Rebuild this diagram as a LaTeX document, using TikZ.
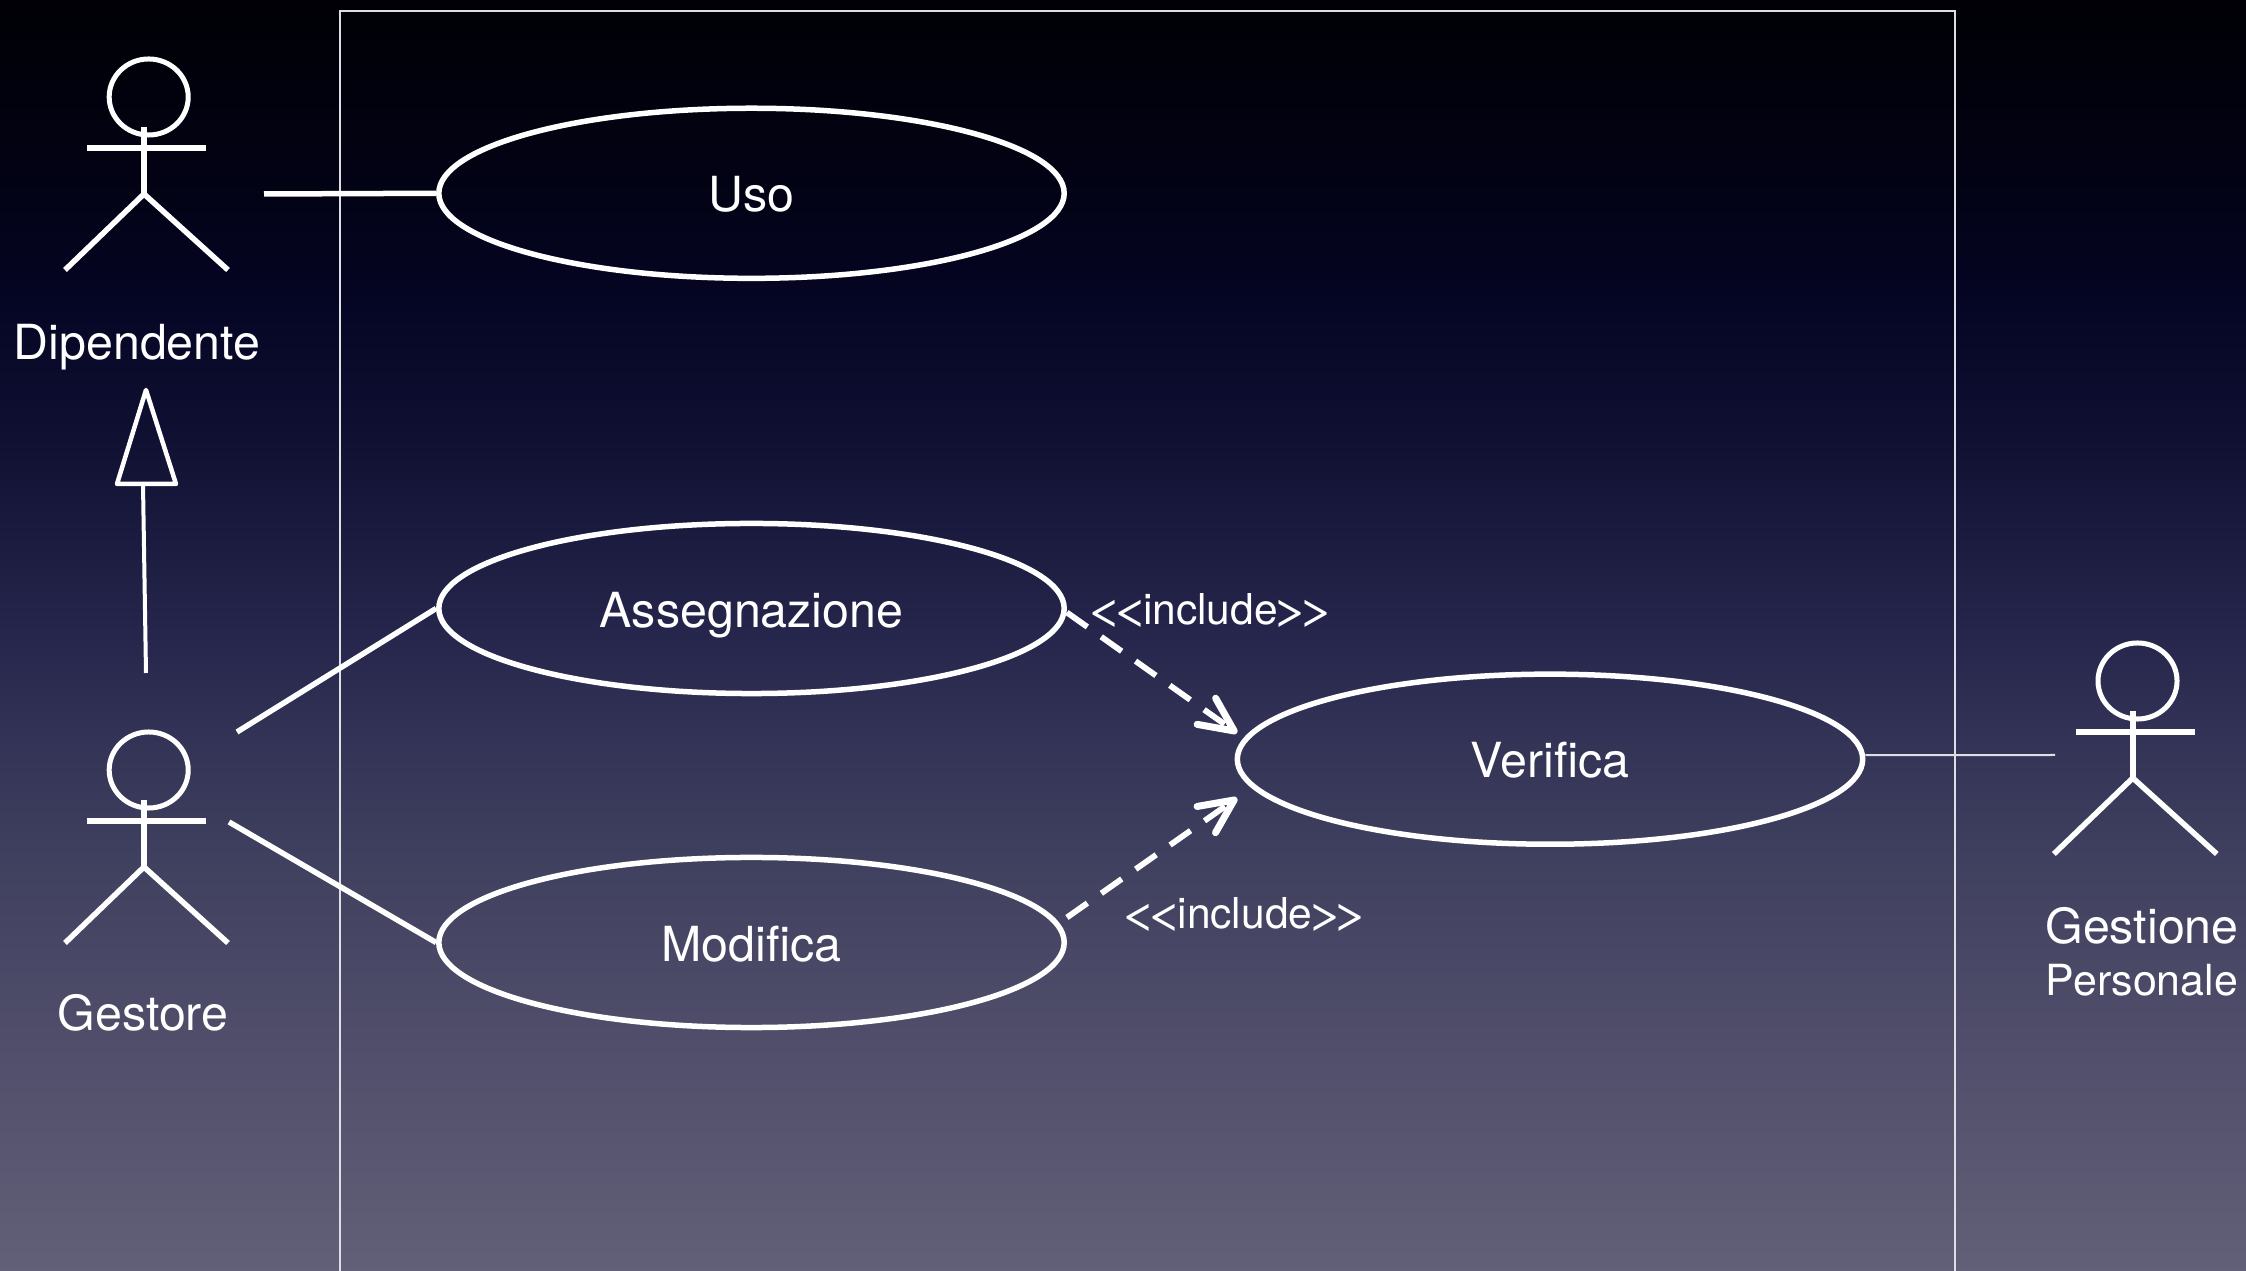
\documentclass[tikz,border=0pt]{standalone}
\usepackage{fontspec}
\usepackage{xcolor}
\usepackage{tikz}
\usetikzlibrary{arrows.meta, shapes.geometric}
\setmainfont{TeX Gyre Heros}
\newfontfamily\anglefont[FakeStretch=1.55]{TeX Gyre Heros}
\pgfdeclareverticalshading{nightfade}{100bp}{rgb(0bp)=(.385,.372,.470); rgb(25bp)=(.385,.372,.470); rgb(32bp)=(.330,.320,.430); rgb(40bp)=(.260,.260,.380); rgb(46bp)=(.200,.200,.340); rgb(50bp)=(.150,.150,.300); rgb(58bp)=(.060,.060,.195); rgb(63bp)=(.020,.020,.145); rgb(67.5bp)=(.010,.010,.085); rgb(75bp)=(0,0,.020); rgb(100bp)=(0,0,.020)}
\definecolor{framegray}{rgb}{.87,.87,.89}

\begin{document}
\begin{tikzpicture}[x=0.01cm, y=-0.01cm,
        usecase/.style={shape=ellipse, draw=white, line width=0.055cm, inner sep=0pt, minimum width=6.25cm, minimum height=1.70cm, text=white, text height=0.37cm, text depth=0pt, font=\fontsize{13.75}{16}\selectfont},
        actorname/.style={anchor=base, inner sep=0pt, text=white, font=\fontsize{13.75}{16}\selectfont},
        includename/.style={anchor=base, inner sep=0pt, text=white, font=\fontsize{12.1}{14}\selectfont},
        assoc/.style={draw=white, line width=0.055cm},
        include/.style={draw=white, line width=0.058cm, dash pattern=on 0.25cm off 0.17cm, -{Straight Barb[length=0.34cm, width=0.32cm, round, line width=0.07cm]}}]
            \useasboundingbox (0, 0) rectangle (2246, 1271);
            \shade[shading=nightfade] (0, 0) rectangle (2246, 1271);
            \draw[framegray, line width=0.025cm] (340, 1271) -- (340, 11) -- (1955, 11) -- (1955, 1271);

            \foreach \name/\x/\y in {dipendente/148.7/97, gestore/148.7/770, gestione/2137.5/681} {
                \node[shape=ellipse, draw=white, line width=0.05cm, inner sep=0pt, minimum width=0.79cm, minimum height=0.76cm] (\name) at (\x, \y) {};
                \draw[white, line width=0.06cm] (\x-4.7, \y+30) -- (\x-4.7, \y+97);
                \draw[white, line width=0.065cm] (\x-62, \y+51) -- (\x+57.5, \y+51);
                \draw[white, line width=0.055cm] (\x-83.7, \y+173) -- (\x-4.7, \y+97) -- (\x+79.3, \y+173);
            }

            \node[usecase] (uso) at (751.5, 193.3) {Uso};
            \node[usecase] (assegnazione) at (751.5, 608.5) {Assegnazione};
            \node[usecase] (modifica) at (751.5, 942.5) {Modifica};
            \node[usecase] (verifica) at (1550, 759.2) {Verifica};

            \node[actorname] (dipendentename) at (137, 360) {Dipendente};
            \node[actorname] (gestorename) at (143, 1031) {Gestore};
            \node[actorname, align=center] (gestionename) at (2142, 996) {Gestione\\[-1.2pt]{\fontsize{12.2}{14.8}\selectfont Personale}};
            \node[includename] (includeup) at (1210.5, 625) {{\anglefont<\kern-.3em<}\kern-.15em include\kern-.15em{\anglefont>\kern-.3em>}};
            \node[includename] (includedown) at (1245, 929) {{\anglefont<\kern-.3em<}\kern-.15em include\kern-.15em{\anglefont>\kern-.3em>}};

            \coordinate (usofree) at (264, 194);
            \coordinate (assegnazionefree) at (237, 732);
            \coordinate (modificafree) at (229, 822);
            \coordinate (verificafree) at (2055, 755);
            \coordinate (includeuptip) at (1237, 733);
            \coordinate (includedowntip) at (1237, 798);
            \coordinate (gentip) at (146, 390);
            \coordinate (genleft) at (117, 484);
            \coordinate (genright) at (176, 484);
            \coordinate (genbase) at (143, 484);
            \coordinate (genfree) at (146, 673);

            \path (usofree) edge[assoc] (uso.west);
            \path (assegnazionefree) edge[assoc] (assegnazione.west);
            \path (modificafree) edge[assoc] (modifica.west);
            \path ([yshift=0.04cm]verifica.east) edge[draw=framegray, line width=0.02cm] (verificafree);

            \path ([yshift=-0.04cm]assegnazione.east) edge[include] (includeuptip);
            \path ([yshift=0.25cm]modifica.east) edge[include] (includedowntip);

            \path (genfree) edge[draw=white, line width=0.04cm] (genbase);
            \draw[white, line width=0.045cm, line join=round] (gentip) -- (genleft) -- (genright) -- cycle;
        \end{tikzpicture}
\end{document}
